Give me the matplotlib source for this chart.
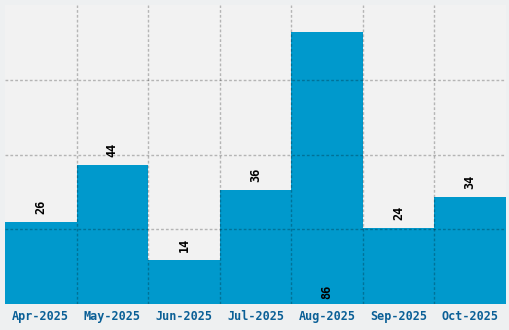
import matplotlib
matplotlib.use("Agg")
import matplotlib.pyplot as plt
import numpy as np

categories = ["Apr-2025", "May-2025", "Jun-2025", "Jul-2025", "Aug-2025", "Sep-2025", "Oct-2025"]
values = [26, 44, 14, 36, 86, 24, 34]

W, H = 510, 330
fig = plt.figure(figsize=(W / 100, H / 100), dpi=100)
fig.patch.set_facecolor("#eef0f1")
ax = fig.add_axes([5 / W, (H - 304.3) / H, 501 / W, 299.3 / H])
ax.set_facecolor("#f2f2f2")

x = np.arange(len(categories))
ymax = max(values) * 1.1
ax.bar(x, values, width=1.0, color="#0099cc", zorder=2)
ax.set_xlim(-0.5, len(categories) - 0.5)
ax.set_ylim(0, ymax)

# interior grid lines only, drawn over bars
ax.set_yticks([ymax * i / 4 for i in range(1, 4)])
ax.set_xticks(np.arange(1, len(categories)) - 0.5)
ax.set_xticklabels([])
ax.set_yticklabels([])
ax.grid(True, color="black", alpha=0.25, linestyle=(0, (2, 1.5)), linewidth=1, zorder=3)
ax.set_axisbelow(False)
ax.tick_params(length=0)

px = ymax / 299.3
for xi, lab in zip(x, categories):
    ax.text(xi, -5.5 * px, lab, ha="center", va="top",
            family="DejaVu Sans Mono", weight="bold", fontsize=8.5, color="#0a5f96",
            clip_on=False)

for xi, v in zip(x, values):
    if v > 0.9 * ymax:
        ax.text(xi, 5 * px, str(v), ha="center", va="bottom", rotation=90,
                family="DejaVu Sans Mono", weight="bold", fontsize=8.5, color="black", zorder=4)
    else:
        ax.text(xi, v + 8 * px, str(v), ha="center", va="bottom", rotation=90,
                family="DejaVu Sans Mono", weight="bold", fontsize=8.5, color="black", zorder=4)

for s in ax.spines.values():
    s.set_visible(False)

fig.savefig("out.png", dpi=100, facecolor=fig.get_facecolor())
